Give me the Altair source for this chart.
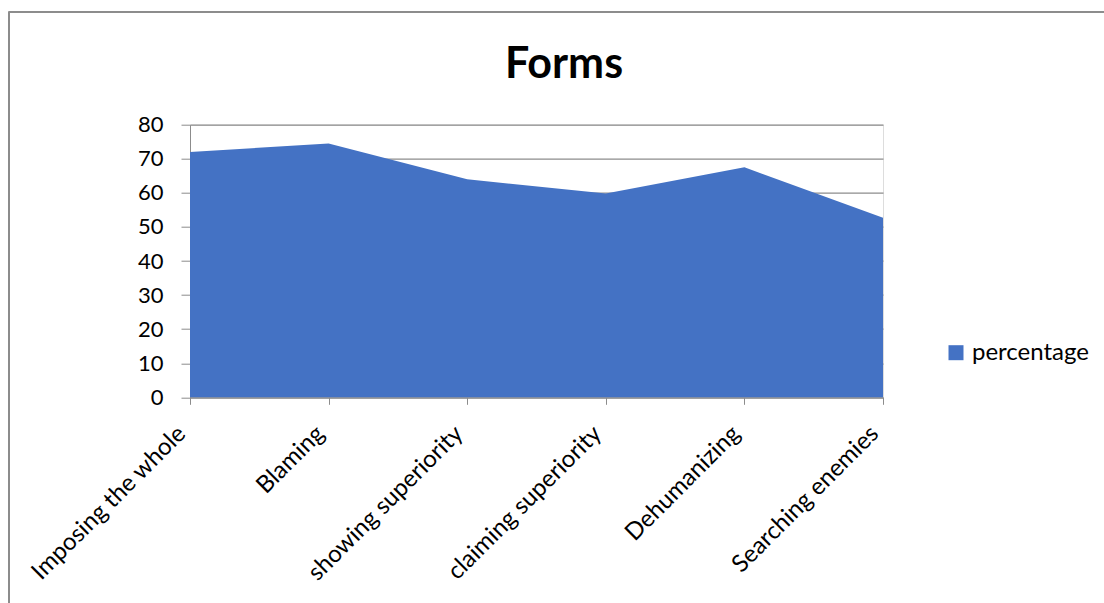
import altair as alt
import pandas as pd

categories = [
    "Imposing the whole",
    "Blaming",
    "showing superiority",
    "claiming superiority",
    "Dehumanizing",
    "Searching enemies",
]
percentage = [72, 74.5, 64, 59.8, 67.5, 52.7]
chart_title = "Forms"

df = pd.DataFrame({"form": categories, "value": percentage, "series": "percentage"})

FONT = "Lato"
BLUE = "#4472C4"
GRID = "#8c8c8c"

area = alt.Chart(df).mark_area(color=BLUE, opacity=1).encode(
    x=alt.X(
        "form:N",
        sort=categories,
        scale=alt.Scale(type="point", padding=0),
        axis=alt.Axis(
            title=None,
            labelAngle=-45,
            labelAlign="right",
            labelBaseline="bottom",
            labelPadding=34,
            labelFontSize=24,
            labelFont=FONT,
            labelColor="#000000",
            labelLimit=0,
            tickSize=7,
            tickColor=GRID,
            domainColor=GRID,
            grid=False,
        ),
    ),
    y=alt.Y(
        "value:Q",
        scale=alt.Scale(domain=[0, 80]),
        axis=alt.Axis(
            title=None,
            values=list(range(0, 81, 10)),
            labelFontSize=22,
            labelFont=FONT,
            labelColor="#000000",
            labelPadding=18,
            tickSize=9,
            tickColor=GRID,
            domainColor=GRID,
            gridColor=GRID,
            gridWidth=1.2,
        ),
    ),
    color=alt.Color(
        "series:N",
        scale=alt.Scale(range=[BLUE]),
        legend=alt.Legend(
            title=None,
            orient="none",
            legendX=754,
            legendY=216,
            symbolType="square",
            symbolSize=225,
            symbolStrokeWidth=0,
            labelFontSize=24,
            labelFont=FONT,
            labelColor="#000000",
        ),
    ),
)

# chart title as a text mark placed above the plot
title = alt.Chart(pd.DataFrame({"t": [chart_title]})).mark_text(
    font=FONT, fontSize=43, fontWeight="bold", color="#000000",
    align="center", baseline="alphabetic",
).encode(text="t:N", x=alt.value(374), y=alt.value(-47))

# outer chart frame (left and top edges)
frame_left = alt.Chart(df).mark_rule(color=GRID, strokeWidth=1.5).encode(
    x=alt.value(-181), y=alt.value(-113), y2=alt.value(500)
)
frame_top = alt.Chart(df).mark_rule(color=GRID, strokeWidth=1.5).encode(
    x=alt.value(-181), x2=alt.value(930), y=alt.value(-113)
)

chart = (
    alt.layer(area, title, frame_left, frame_top)
    .properties(
        width=693,
        height=272.6,
        padding={"left": 190, "top": 124.7, "right": 221, "bottom": 205.7},
        autosize=alt.AutoSizeParams(type="none"),
    )
    .configure_view(stroke=None)
    .configure(background="white")
)

chart.save("out.html", embed_options={"renderer": "svg", "actions": False})
